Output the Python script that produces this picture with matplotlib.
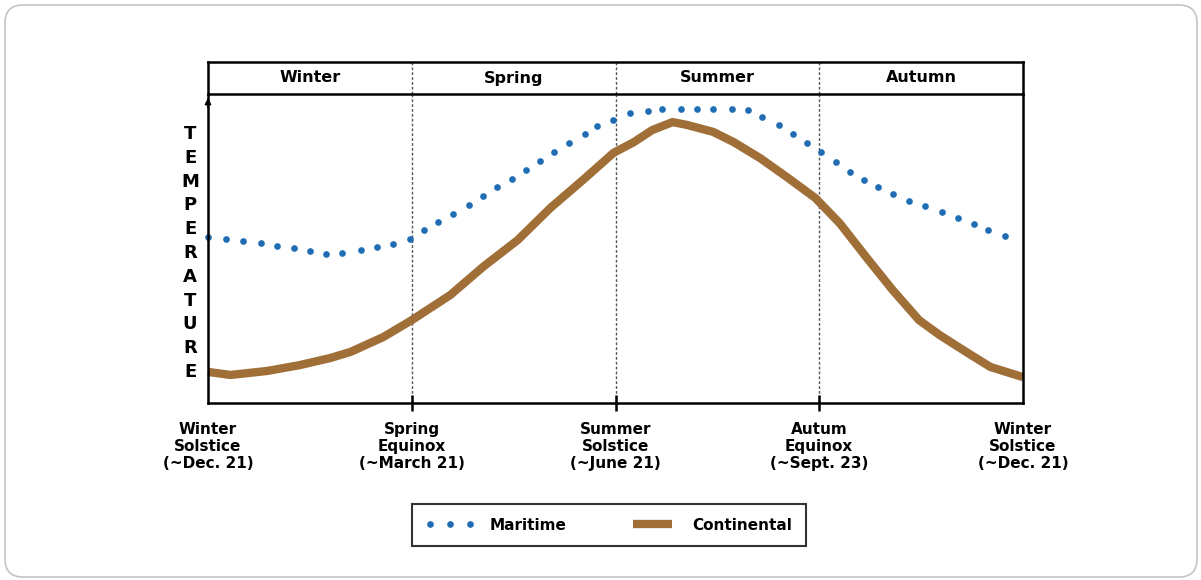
import numpy as np
import matplotlib
matplotlib.use("Agg")
import matplotlib.pyplot as plt
from matplotlib.patches import FancyBboxPatch

# x in seasons (0 = Dec 21, 1 = Mar 21, 2 = Jun 21, 3 = Sep 23, 4 = Dec 21)
# y is a relative temperature index (0 = bottom axis, 100 = top)
maritime_x = [0.0, 0.09, 0.17, 0.26, 0.34, 0.42, 0.50, 0.58, 0.66, 0.75, 0.83, 0.91,
              0.99, 1.06, 1.13, 1.20, 1.28, 1.35, 1.42, 1.49, 1.56, 1.63, 1.70, 1.77,
              1.85, 1.91, 1.99, 2.07, 2.16, 2.23, 2.32, 2.40, 2.48, 2.57, 2.65, 2.72,
              2.80, 2.87, 2.94, 3.01, 3.08, 3.15, 3.22, 3.29, 3.36, 3.44, 3.52, 3.60,
              3.68, 3.76, 3.83, 3.91]
maritime_y = [53.9, 53.2, 52.6, 51.9, 51.0, 50.3, 49.4, 48.4, 48.7, 49.7, 50.6, 51.6,
              53.2, 56.2, 58.8, 61.4, 64.3, 67.2, 70.1, 72.7, 75.6, 78.6, 81.5, 84.4,
              87.3, 89.9, 91.9, 94.2, 94.8, 95.5, 95.5, 95.5, 95.5, 95.5, 95.1, 92.9,
              90.3, 87.3, 84.4, 81.5, 78.2, 75.0, 72.4, 70.1, 67.9, 65.6, 64.0, 62.0,
              60.1, 58.1, 56.2, 54.2]

continental_x = [0.0, 0.11, 0.29, 0.45, 0.60, 0.70, 0.86, 1.0, 1.19, 1.35, 1.52, 1.68,
                 1.84, 1.99, 2.09, 2.18, 2.28, 2.35, 2.48, 2.58, 2.71, 2.84, 2.98, 3.10,
                 3.23, 3.36, 3.49, 3.59, 3.73, 3.84, 4.0]
continental_y = [10.1, 9.1, 10.4, 12.3, 14.6, 16.6, 21.4, 26.9, 35.1, 44.2, 52.9, 63.3,
                 72.4, 81.2, 84.7, 88.6, 91.2, 90.3, 88.0, 84.7, 79.5, 73.4, 66.6, 58.4,
                 47.4, 36.7, 26.9, 22.1, 16.2, 11.7, 8.4]

seasons = ["Winter", "Spring", "Summer", "Autumn"]
tick_labels = ["Winter\nSolstice\n(~Dec. 21)", "Spring\nEquinox\n(~March 21)",
               "Summer\nSolstice\n(~June 21)", "Autum\nEquinox\n(~Sept. 23)",
               "Winter\nSolstice\n(~Dec. 21)"]
ylabel_text = "TEMPERATURE"

blue = "#1f6db3"
brown = "#a06f38"

plt.rcParams['font.family'] = ['DejaVu Sans']

W, H = 1201, 580
fig = plt.figure(figsize=(W / 100, H / 100), dpi=100)

# light rounded page frame
frame = FancyBboxPatch((5 / W, 3 / H), 1192 / W, 572 / H,
                       boxstyle="round,pad=0,rounding_size=0.015",
                       transform=fig.transFigure, fill=False,
                       edgecolor="#c4c4c4", lw=1.2, mutation_aspect=W / H)
fig.patches.append(frame)

left, right = 208, 1023
ax = fig.add_axes([left / W, (H - 403) / H, (right - left) / W, (403 - 95) / H])
hdr = fig.add_axes([left / W, (H - 94) / H, (right - left) / W, 32 / H])

# main plot
ax.plot(maritime_x, maritime_y, linestyle="none", marker="o", markersize=4.8,
        color=blue, markeredgewidth=0, label="Maritime", clip_on=False)
ax.plot(continental_x, continental_y, color=brown, lw=6,
        solid_capstyle="butt", solid_joinstyle="round",
        label="Continental", clip_on=False)

for b in [1, 2, 3]:
    ax.axvline(b, color="#555555", lw=1, linestyle=(0, (2, 1.5)), zorder=0)
    hdr.axvline(b, color="#555555", lw=1, linestyle=(0, (2, 1.5)))

ax.set_xlim(0, 4)
ax.set_ylim(0, 100)
ax.set_yticks([])
ax.set_xticks(range(5))
ax.set_xticklabels(tick_labels, fontsize=11, fontweight="bold", linespacing=1.15)
ax.tick_params(axis="x", direction="inout", length=11.5, width=1.8, pad=8)
xt = ax.xaxis.get_major_ticks()
xt[0].tick1line.set_visible(False)
xt[-1].tick1line.set_visible(False)
ax.spines["top"].set_visible(False)
for s in ["left", "bottom", "right"]:
    ax.spines[s].set_linewidth(1.8)

# arrow at top of the temperature axis
ax.annotate("", xy=(0, 1.0), xytext=(0, 0.95), xycoords="axes fraction",
            arrowprops=dict(arrowstyle="-|>", color="k", lw=1.2, mutation_scale=9))

# vertical TEMPERATURE letters
letter_y = np.linspace(87.3, 10.1, len(ylabel_text))
for ch, yy in zip(ylabel_text, letter_y):
    ax.text(-0.022, yy, ch, transform=ax.get_yaxis_transform(), ha="center",
            va="center", fontsize=13, fontweight="bold")

# season header band
hdr.set_xlim(0, 4)
hdr.set_ylim(0, 1)
hdr.set_xticks([])
hdr.set_yticks([])
for s in hdr.spines.values():
    s.set_linewidth(1.8)
for i, name in enumerate(seasons):
    hdr.text(i + 0.5, 0.5, name, ha="center", va="center",
             fontsize=11.5, fontweight="bold")

leg = fig.legend(loc="center", bbox_to_anchor=(609 / W, (H - 525) / H),
                 ncol=2, frameon=True, fancybox=False, edgecolor="black",
                 numpoints=3, handlelength=3.2, columnspacing=4.0,
                 borderpad=0.9, handletextpad=1.0, borderaxespad=0,
                 prop={"weight": "bold", "size": 11})
leg.get_frame().set_linewidth(1.5)

fig.savefig("out.png", dpi=100)
